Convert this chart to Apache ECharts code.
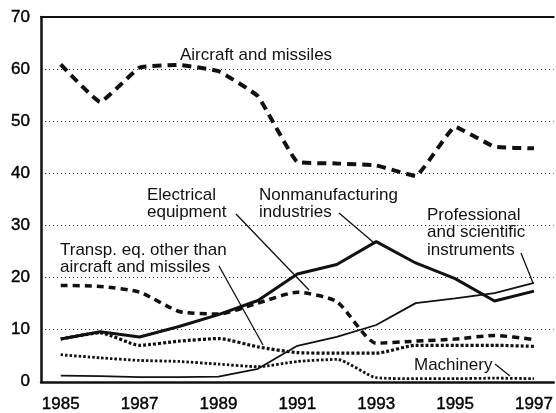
<!DOCTYPE html>
<html>
<head>
<meta charset="utf-8">
<script src="https://cdn.jsdelivr.net/npm/echarts@6/dist/echarts.min.js"></script>
<style>
  html, body { margin: 0; padding: 0; background: #fff; }
  #main { width: 556px; height: 413px; }
</style>
</head>
<body>
<div id="main"></div>
<script>
// years on the x axis
const years = ["1985", "1986", "1987", "1988", "1989", "1990", "1991",
  "1992", "1993", "1994", "1995", "1996", "1997"];

// percent values
const aircraft = [60.9, 53.7, 60.3, 60.8, 59.6, 54.8, 42.2, 41.9, 41.5, 39.5, 48.9, 45.1, 44.8];
const nonmanufacturing = [8.2, 9.6, 8.6, 10.6, 12.9, 15.6, 20.7, 22.5, 26.9, 22.8, 19.8, 15.5, 17.4];
const electrical = [18.5, 18.3, 17.2, 13.5, 13.0, 15.1, 17.2, 15.4, 7.4, 7.8, 8.2, 8.9, 8.1];
const professional = [1.2, 1.1, 0.9, 0.9, 1.0, 2.5, 6.9, 8.6, 10.9, 15.1, 16.0, 17.0, 19.0];
const transp = [8.2, 9.4, 7.0, 7.8, 8.3, 6.7, 5.6, 5.5, 5.5, 7.0, 7.0, 7.0, 6.8];
const machinery = [5.2, 4.6, 4.1, 3.9, 3.4, 2.9, 3.9, 4.3, 0.8, 0.6, 0.6, 0.7, 0.6];

const yTicks = [0, 10, 20, 30, 40, 50, 60, 70];

const FONT = "Liberation Sans";

function lineSeries(name, data, width, type, smooth) {
  return {
    name: name,
    type: "line",
    data: data,
    symbol: "none",
    smooth: smooth || false,
    lineStyle: { color: "#111", width: width, type: type, cap: "butt" },
    z: 3,
  };
}

function label(lines, x, y, step) {
  return lines.map(function (t, i) {
    return {
      type: "text",
      style: {
        text: t,
        x: x,
        y: y + i * step,
        fill: "#111",
        font: "17px '" + FONT + "'",
        textVerticalAlign: "middle",
      },
      z: 10,
    };
  });
}

function leader(x1, y1, x2, y2) {
  return {
    type: "line",
    shape: { x1: x1, y1: y1, x2: x2, y2: y2 },
    style: { stroke: "#111", lineWidth: 1.3 },
    z: 10,
  };
}

const myChart = echarts.init(document.getElementById("main"), null, { renderer: "canvas" });

const option = {
  animation: false,
  backgroundColor: "#fff",
  textStyle: { fontFamily: FONT },
  grid: { left: 41, right: 0, top: 17, bottom: 29, containLabel: false },
  xAxis: [
    {
      type: "category",
      data: years,
      boundaryGap: true,
      axisLine: { lineStyle: { color: "#111", width: 2.5 } },
      axisTick: { inside: true, length: 5, interval: 0, alignWithLabel: true, lineStyle: { color: "#111", width: 1.2 } },
      axisLabel: { interval: 1, color: "#000", fontSize: 17, margin: 14, fontFamily: FONT, textBorderColor: "#000", textBorderWidth: 0.4 },
      splitLine: { show: false },
    },
    {
      type: "category",
      data: years,
      position: "top",
      axisLine: { lineStyle: { color: "#111", width: 2 } },
      axisTick: { show: false },
      axisLabel: { show: false },
      splitLine: { show: false },
    },
  ],
  yAxis: {
    type: "value",
    min: yTicks[0],
    max: yTicks[yTicks.length - 1],
    interval: 10,
    axisLine: { show: true, lineStyle: { color: "#111", width: 2.5 } },
    axisTick: { show: false },
    axisLabel: { color: "#000", fontSize: 17, margin: 11, fontFamily: FONT, textBorderColor: "#000", textBorderWidth: 0.4 },
    splitLine: { lineStyle: { color: "#333", width: 1, type: [1.2, 2.8] } },
  },
  series: [
    lineSeries("Aircraft and missiles", aircraft, 4, [9, 6], 0.1),
    lineSeries("Nonmanufacturing industries", nonmanufacturing, 3, "solid"),
    lineSeries("Electrical equipment", electrical, 3.5, [7, 5], 0.2),
    lineSeries("Professional and scientific instruments", professional, 1.8, "solid"),
    lineSeries("Transp. eq. other than aircraft and missiles", transp, 3.2, [3, 2], 0.2),
    lineSeries("Machinery", machinery, 2.8, [2.5, 2], 0.2),
  ],
  graphic: [].concat(
    label(["Aircraft and missiles"], 180, 55, 17),
    label(["Electrical", "equipment"], 147, 195, 17),
    label(["Nonmanufacturing", "industries"], 259, 195, 17),
    label(["Transp. eq. other than", "aircraft and missiles"], 60, 250, 17),
    label(["Professional", "and scientific", "instruments"], 427, 215, 17.5),
    label(["Machinery"], 414, 365, 17),
    [
      leader(236, 214, 309, 290),
      leader(339, 213, 373, 242),
      leader(219, 266, 263, 345),
      leader(521, 253, 533, 283),
      leader(495, 364, 510, 376),
    ]
  ),
};

myChart.setOption(option);
</script>
</body>
</html>
